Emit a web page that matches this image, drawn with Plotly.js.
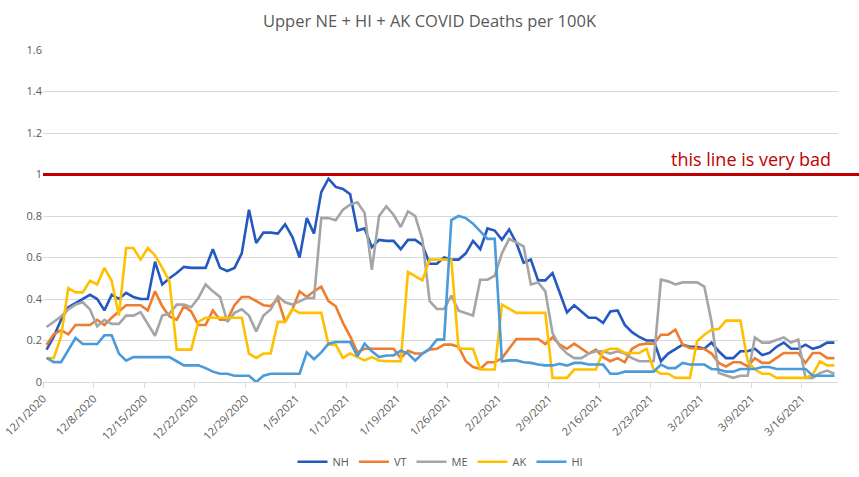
<!DOCTYPE html>
<html>
<head>
<meta charset="utf-8">
<script src="https://cdn.plot.ly/plotly-3.0.1.min.js"></script>
<style>html,body{margin:0;padding:0;background:#fff;}#chart{width:859px;height:477px;}</style>
</head>
<body>
<div id="chart"></div>
<script>
// ---- data ----
var startDate = '2020-12-01';
var seriesNames = ['NH', 'VT', 'ME', 'AK', 'HI'];
var seriesColors = ['#2559c2', '#ed7d31', '#a5a5a5', '#ffc000', '#4b9ad9'];

var NH = [0.156,0.22,0.30,0.36,0.38,0.40,0.42,0.40,0.345,0.42,
  0.40,0.43,0.41,0.40,0.40,0.58,0.47,0.50,0.525,0.555,
  0.55,0.55,0.55,0.64,0.55,0.535,0.55,0.62,0.83,0.67,
  0.72,0.72,0.715,0.76,0.70,0.60,0.79,0.715,0.915,0.98,
  0.94,0.93,0.905,0.73,0.74,0.65,0.685,0.68,0.68,0.64,
  0.685,0.685,0.66,0.57,0.57,0.60,0.59,0.59,0.62,0.68,
  0.64,0.74,0.73,0.685,0.735,0.67,0.575,0.59,0.49,0.49,
  0.525,0.43,0.335,0.37,0.34,0.31,0.31,0.285,0.34,0.345,
  0.275,0.24,0.217,0.20,0.20,0.10,0.137,0.16,0.18,0.17,
  0.17,0.16,0.19,0.148,0.115,0.115,0.148,0.148,0.16,0.13,
  0.14,0.17,0.19,0.16,0.16,0.18,0.16,0.17,0.19,0.19];

var VT = [0.18,0.23,0.25,0.23,0.275,0.275,0.275,0.30,0.275,0.31,
  0.34,0.37,0.37,0.37,0.345,0.437,0.365,0.316,0.30,0.365,
  0.34,0.275,0.275,0.345,0.30,0.30,0.37,0.41,0.41,0.39,
  0.37,0.366,0.40,0.29,0.35,0.437,0.41,0.437,0.46,0.39,
  0.365,0.285,0.22,0.143,0.16,0.16,0.16,0.16,0.16,0.115,
  0.15,0.137,0.137,0.156,0.16,0.18,0.18,0.17,0.10,0.072,
  0.063,0.095,0.095,0.115,0.164,0.207,0.207,0.207,0.207,0.183,
  0.215,0.18,0.16,0.185,0.16,0.137,0.156,0.12,0.10,0.115,
  0.095,0.16,0.18,0.185,0.185,0.228,0.228,0.252,0.18,0.164,
  0.16,0.16,0.137,0.092,0.075,0.095,0.095,0.075,0.115,0.092,
  0.092,0.115,0.14,0.14,0.14,0.092,0.14,0.14,0.115,0.115];

var ME = [0.265,0.29,0.316,0.35,0.373,0.384,0.35,0.268,0.30,0.28,
  0.28,0.32,0.32,0.337,0.28,0.223,0.32,0.33,0.373,0.373,
  0.36,0.405,0.47,0.437,0.41,0.29,0.333,0.35,0.32,0.244,
  0.32,0.35,0.413,0.384,0.373,0.39,0.405,0.405,0.79,0.79,
  0.78,0.83,0.855,0.866,0.815,0.54,0.80,0.847,0.806,0.747,
  0.822,0.80,0.686,0.39,0.352,0.352,0.416,0.344,0.333,0.32,
  0.493,0.493,0.512,0.62,0.69,0.67,0.654,0.47,0.48,0.437,
  0.236,0.172,0.137,0.115,0.115,0.137,0.148,0.148,0.137,0.148,
  0.137,0.115,0.10,0.10,0.10,0.493,0.485,0.47,0.48,0.48,
  0.48,0.46,0.29,0.043,0.03,0.02,0.03,0.03,0.215,0.19,
  0.19,0.204,0.215,0.19,0.204,0.02,0.02,0.043,0.055,0.04];

var AK = [0.116,0.116,0.22,0.453,0.432,0.432,0.488,0.47,0.55,0.488,
  0.32,0.646,0.646,0.59,0.646,0.61,0.55,0.485,0.156,0.156,
  0.156,0.29,0.31,0.31,0.31,0.31,0.31,0.31,0.137,0.116,
  0.137,0.137,0.29,0.29,0.352,0.333,0.333,0.333,0.333,0.18,
  0.18,0.116,0.137,0.12,0.104,0.12,0.104,0.10,0.10,0.10,
  0.53,0.51,0.49,0.59,0.59,0.59,0.59,0.16,0.16,0.16,
  0.06,0.06,0.06,0.373,0.352,0.333,0.333,0.333,0.333,0.333,
  0.02,0.02,0.02,0.06,0.06,0.06,0.06,0.148,0.16,0.16,
  0.14,0.14,0.14,0.16,0.06,0.04,0.04,0.02,0.02,0.02,
  0.196,0.228,0.252,0.255,0.296,0.296,0.296,0.10,0.06,0.04,
  0.04,0.02,0.02,0.02,0.02,0.02,0.035,0.10,0.08,0.08];

var HI = [0.116,0.096,0.096,0.156,0.212,0.183,0.183,0.183,0.225,0.225,
  0.137,0.103,0.12,0.12,0.12,0.12,0.12,0.12,0.10,0.08,
  0.08,0.08,0.067,0.05,0.04,0.04,0.03,0.03,0.03,0.0,
  0.03,0.04,0.04,0.04,0.04,0.04,0.143,0.11,0.143,0.185,
  0.193,0.193,0.193,0.124,0.185,0.148,0.12,0.128,0.128,0.151,
  0.137,0.103,0.137,0.16,0.204,0.204,0.78,0.80,0.79,0.763,
  0.726,0.69,0.69,0.10,0.104,0.104,0.095,0.092,0.084,0.08,
  0.08,0.088,0.079,0.092,0.092,0.084,0.084,0.084,0.04,0.04,
  0.05,0.05,0.05,0.05,0.05,0.084,0.067,0.067,0.092,0.084,
  0.084,0.084,0.063,0.06,0.05,0.05,0.063,0.063,0.063,0.072,
  0.072,0.063,0.063,0.063,0.063,0.063,0.03,0.03,0.03,0.03];

var tickLabels = ['12/1/2020','12/8/2020','12/15/2020','12/22/2020','12/29/2020',
  '1/5/2021','1/12/2021','1/19/2021','1/26/2021','2/2/2021','2/9/2021',
  '2/16/2021','2/23/2021','3/2/2021','3/9/2021','3/16/2021'];

var badLevel = 1;
var badLabel = 'this line is very bad';
var chartTitle = 'Upper NE + HI + AK COVID Deaths per 100K';

// ---- helpers ----
function pad(n){ return (n < 10 ? '0' : '') + n; }
function isoDay(d){ return d.getUTCFullYear() + '-' + pad(d.getUTCMonth()+1) + '-' + pad(d.getUTCDate()); }
function dayDates(start, count){
  var p = start.split('-').map(Number), out = [];
  for (var i = 0; i < count; i++) {
    var d = new Date(Date.UTC(p[0], p[1]-1, p[2] + i));
    out.push(isoDay(d) + ' 12:00'); // centre of each day slot
  }
  return out;
}
function mdyToIso(s){ var p = s.split('/').map(Number); return p[2] + '-' + pad(p[0]) + '-' + pad(p[1]); }

var allSeries = [NH, VT, ME, AK, HI];
var n = NH.length;
var x = dayDates(startDate, n);
var sp = startDate.split('-').map(Number);
var rangeEnd = isoDay(new Date(Date.UTC(sp[0], sp[1]-1, sp[2] + n)));

var traces = allSeries.map(function(vals, k){
  return {
    type: 'scatter', mode: 'lines', name: seriesNames[k], x: x, y: vals,
    line: {color: seriesColors[k], width: 2.6}
  };
});

var font = "'Open Sans', 'Noto Sans', sans-serif";
var yMax = 1.6;

var layout = {
  width: 859, height: 477,
  margin: {l: 43, r: 21, t: 50, b: 95},
  paper_bgcolor: '#ffffff', plot_bgcolor: '#ffffff',
  font: {family: font, color: '#595959', size: 11},
  title: {text: chartTitle, x: 0.5, xanchor: 'center', y: 0.955, yanchor: 'middle',
          font: {family: font, size: 16.5, color: '#595959'}},
  showlegend: true,
  legend: {orientation: 'h', xref: 'paper', x: 0.5, xanchor: 'center',
           yref: 'container', y: 0.032, yanchor: 'middle',
           font: {size: 11, color: '#595959'}, itemwidth: 30, tracegroupgap: 0},
  xaxis: {
    type: 'date', range: [startDate, rangeEnd], automargin: false,
    tickmode: 'array', tickvals: tickLabels.map(mdyToIso), ticktext: tickLabels,
    tickangle: -45, ticks: 'outside', ticklen: 5, tickcolor: '#d9d9d9',
    showline: true, linecolor: '#d9d9d9', linewidth: 1,
    showgrid: false, zeroline: false,
    tickfont: {size: 11, color: '#595959'}
  },
  yaxis: {
    range: [0, yMax], dtick: 0.2, tick0: 0, automargin: false,
    showgrid: true, gridcolor: '#d9d9d9', gridwidth: 1,
    zeroline: false, showline: false, ticks: '',
    tickfont: {size: 11, color: '#595959'}
  },
  shapes: [{
    type: 'line', xref: 'paper', yref: 'paper',
    x0: 0, x1: 1.027, y0: badLevel / yMax, y1: badLevel / yMax,
    line: {color: '#c00000', width: 3}
  }],
  annotations: [{
    xref: 'paper', yref: 'paper', x: 0.994, y: badLevel / yMax,
    xanchor: 'right', yanchor: 'bottom', yshift: 2, showarrow: false,
    text: badLabel, font: {family: font, size: 18, color: '#c00000'}
  }]
};

Plotly.newPlot('chart', traces, layout, {displayModeBar: false, staticPlot: true});
</script>
</body>
</html>
